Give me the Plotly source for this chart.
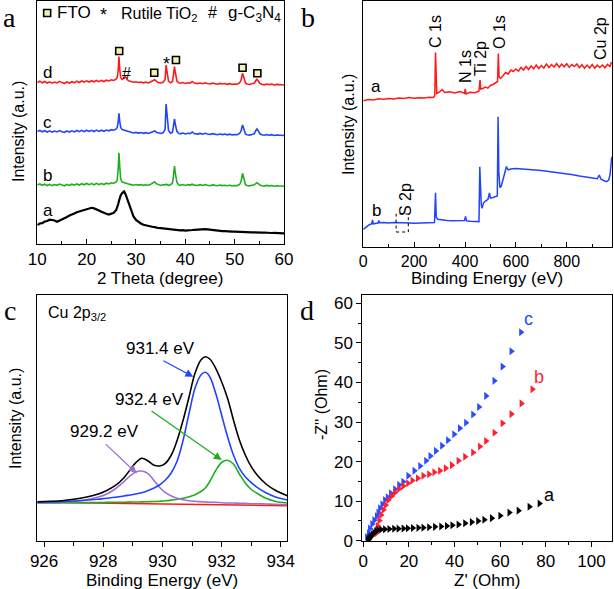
import plotly.graph_objects as go

W, H = 614, 589


def px(x):
    return x / W


def py(y):
    return 1 - y / H


FONT = "Liberation Sans, Arial, sans-serif"
SERIF = "Liberation Serif, Times New Roman, serif"

RED = "#ff1a1a"
BLUE = "#2343ff"
GREEN = "#1cb01c"
PURPLE = "#a070d0"

# ---------------- Panel a : XRD ----------------
theta = (
    [10, 10.5, 11, 11.5, 12, 12.5, 13, 13.5, 14, 14.5, 15, 15.5, 16, 16.5, 17, 17.5, 18, 18.5, 19, 19.5,
     20, 20.5, 21, 21.5, 22, 22.5, 23, 23.5, 24, 24.5, 25, 25.5, 26]
    + [26.2, 26.4, 26.55, 26.7, 26.9, 27.2, 27.6, 27.9, 28.2]
    + [28.5, 29, 29.5, 30, 30.5, 31, 31.5, 32, 32.5, 33]
    + [33.5, 33.8, 34.1, 34.5, 35, 35.5]
    + [35.9, 36.1, 36.3, 36.6, 37, 37.4, 37.6, 37.8, 38.0, 38.3, 38.7]
    + [39, 39.5, 40, 40.5, 41]
    + [41.4, 41.8]
    + [42.5, 43, 43.5, 44, 44.5, 45, 45.5, 46, 46.5, 47, 47.5, 48, 48.5, 49, 49.5, 50, 50.5, 51]
    + [51.3, 51.6, 51.9, 52.2]
    + [52.5, 53, 53.5, 54]
    + [54.3, 54.5, 54.8, 55.1]
    + [55.5, 56, 56.5, 57, 57.5, 58, 58.5, 59, 59.5, 60]
)

xrd_d = (
    [163.5, 164.8, 163.2, 164.5, 163.0, 164.2, 162.8, 164.0, 163.1, 164.6, 163.4, 162.5, 164.1, 163.0, 164.3,
     163.2, 164.8, 163.5, 165.0, 163.8, 165.2, 164.0, 165.3, 164.2, 165.5, 164.3, 165.6, 164.5, 165.8, 165.0,
     166.2, 165.5, 167.0]
    + [168.5, 176, 189.5, 177, 168.5, 166.5, 168.0, 169.0, 166.5]
    + [165.2, 164.5, 163.8, 164.2, 163.5, 164.0, 163.2, 163.8, 163.0, 164.2]
    + [165.2, 166.2, 164.8, 163.5, 163.0, 163.8]
    + [166.5, 181, 174, 165, 163.2, 164.5, 171, 179.5, 173, 165, 163.2]
    + [162.8, 163.5, 162.6, 163.3, 162.8]
    + [164.5, 162.9]
    + [162.4, 163.0, 162.3, 163.2, 162.5, 162.0, 162.8, 162.2, 161.8, 162.6, 162.0, 162.5, 161.7, 162.3,
       161.6, 162.0, 161.8, 163.0]
    + [166.0, 172.7, 166.5, 162.8]
    + [162.0, 161.5, 162.2, 163.0]
    + [165.5, 166.8, 165.0, 162.7]
    + [161.8, 161.2, 162.0, 161.4, 161.9, 161.0, 161.6, 161.2, 161.5, 161.0]
)

xrd_c = (
    [114.5, 115.6, 114.2, 115.3, 114.0, 115.2, 113.8, 115.0, 114.1, 115.4, 114.3, 113.6, 115.0, 114.0, 115.2,
     114.1, 115.5, 114.3, 115.6, 114.4, 115.8, 114.6, 115.7, 114.5, 115.9, 114.6, 115.8, 114.7, 116.0, 115.2,
     116.3, 115.8, 117.0]
    + [118.5, 124, 132.7, 125, 118.5, 116.5, 115.8, 115.3, 114.8]
    + [114.2, 113.8, 113.0, 113.6, 112.9, 113.5, 112.7, 113.3, 112.6, 113.5]
    + [114.5, 115.0, 113.8, 113.0, 112.5, 113.2]
    + [116.5, 142, 133, 115.5, 112.8, 113.8, 120, 127, 121, 114.5, 112.6]
    + [112.2, 112.9, 112.0, 112.8, 112.4]
    + [114.0, 112.4]
    + [111.9, 112.6, 111.8, 112.7, 112.0, 111.5, 112.3, 111.7, 111.3, 112.0, 111.4, 111.9, 111.2, 111.8,
       111.1, 111.5, 111.3, 112.5]
    + [115.0, 121.0, 115.5, 112.0]
    + [111.3, 110.9, 111.6, 112.5]
    + [115.5, 117.0, 115.0, 112.2]
    + [111.2, 110.7, 111.4, 110.8, 111.3, 110.5, 111.0, 110.6, 110.9, 110.5]
)

xrd_b = (
    [61.0, 62.0, 60.7, 61.8, 60.5, 61.6, 60.4, 61.5, 60.7, 61.9, 60.9, 60.2, 61.6, 60.6, 61.8, 60.8, 62.1,
     61.0, 62.3, 61.2, 62.5, 61.3, 62.4, 61.2, 62.6, 61.4, 62.5, 61.5, 62.8, 62.0, 63.2, 62.8, 64.0]
    + [66, 78, 93.3, 80, 67, 64.0, 63.2, 62.7, 62.3]
    + [61.9, 61.4, 60.8, 61.5, 60.9, 61.4, 60.7, 61.3, 60.8, 61.7]
    + [63.3, 64.2, 62.3, 61.2, 60.6, 61.4]
    + [61.0, 61.8, 61.2, 60.7, 61.3, 63.0, 70, 80, 72, 63.5, 61.0]
    + [60.7, 61.5, 60.6, 61.4, 60.9]
    + [61.8, 60.8]
    + [60.6, 61.3, 60.5, 61.4, 60.8, 60.3, 61.1, 60.6, 60.2, 60.9, 60.4, 60.8, 60.2, 60.7, 60.0, 60.5,
       60.4, 61.5]
    + [64.5, 72.7, 65.5, 61.3]
    + [60.5, 60.1, 60.7, 61.3]
    + [62.5, 63.3, 62.4, 60.9]
    + [60.3, 59.9, 60.6, 60.1, 60.5, 59.8, 60.3, 59.9, 60.2, 59.8]
)

xrd_a = (
    [21.0, 22.5, 22.8, 24.5, 25.0, 26.3, 26.0, 25.5, 24.2, 25.3, 26.0, 27.8, 29.0, 30.5, 31.2, 32.6, 33.8,
     34.5, 35.8, 36.5, 37.0, 37.5, 38.2, 37.6, 36.9, 35.5, 34.3, 33.0, 32.2, 31.5, 32.0, 33.2, 36.0]
    + [38.5, 42, 45, 47.5, 50.5, 53.0, 54.5, 51.5, 47.5]
    + [42.5, 35.5, 29.5, 26.0, 24.0, 22.5, 21.2, 20.5, 20.0, 19.4]
    + [19.0, 18.8, 18.3, 18.0, 17.8, 17.5]
    + [17.3, 17.0, 17.2, 16.8, 16.5, 16.4, 16.7, 16.2, 16.0, 16.3, 15.8]
    + [15.6, 15.9, 15.4, 15.7, 15.6]
    + [16.0, 16.2]
    + [16.5, 16.8, 17.0, 16.9, 16.6, 16.2, 15.8, 15.6, 15.2, 15.0, 14.8, 14.9, 14.5, 14.6, 14.3, 14.4,
       14.2, 14.1]
    + [14.3, 14.0, 13.9, 14.2]
    + [13.8, 13.9, 13.6, 13.7]
    + [13.5, 13.8, 13.4, 13.6]
    + [13.3, 13.5, 13.2, 13.4, 13.0, 13.2, 12.9, 13.1, 12.8, 12.7]
)

fto_theta = [26.6, 33.7, 38.1, 51.6, 54.6]
fto_level = [195, 173.3, 186, 178.3, 172.7]

# ---------------- Panel b : XPS survey ----------------
surv_a_E = [0, 20, 40, 60, 80, 100, 120, 140, 160, 180, 200, 220, 240, 260, 275, 281, 284, 286, 289, 300,
            310, 320, 340, 360, 380, 398, 401, 404, 420, 440, 455, 459, 462, 470, 480, 490, 500, 510, 520,
            528, 531, 534, 540, 550, 560, 570, 580, 590, 600, 610, 620, 630, 640, 650, 660, 670, 680, 690,
            700, 710, 720, 730, 740, 750, 760, 770, 780, 790, 800, 810, 820, 830, 840, 850, 860, 870, 880,
            890, 900, 910, 920, 930, 940, 950, 960, 970, 976]
surv_a_I = [146.3, 147.5, 147.0, 148.2, 147.8, 148.5, 148.0, 149.0, 148.6, 149.5, 148.8, 149.3, 149.0, 149.8,
            149.6, 151.0, 194.5, 160.0, 153.5, 155.0, 157.5, 154.5, 155.2, 154.0, 155.5, 153.8, 158.0, 153.0,
            154.8, 154.2, 156.0, 167.0, 158.0, 158.5, 160.0, 158.8, 161.5, 162.5, 164.0, 165.5, 193.5, 170.0,
            168.5, 171.0, 174.5, 173.0, 177.0, 175.5, 178.0, 175.8, 179.5, 177.0, 180.5, 177.5, 181.0, 178.2,
            182.0, 178.5, 181.5, 179.0, 183.0, 179.5, 182.5, 180.0, 183.5, 179.8, 182.8, 180.2, 183.2, 179.6,
            182.4, 180.5, 183.0, 179.3, 182.2, 178.8, 181.9, 179.0, 182.5, 178.8, 181.8, 179.5, 182.0, 179.2,
            182.6, 180.5, 185.0]

surv_b_E = [0, 8, 15, 25, 33, 36, 39, 50, 58, 61, 64, 80, 100, 120, 140, 160, 180, 200, 220, 240, 260, 280,
            284, 287, 292, 310, 330, 350, 370, 385, 398, 402, 406, 420, 440, 455, 458, 461, 464, 467, 472,
            480, 490, 496, 500, 510, 520, 527, 530, 533, 537, 542, 550, 557, 563, 566, 570, 580, 600, 625,
            650, 675, 700, 725, 750, 775, 800, 825, 850, 875, 900, 920, 928, 934, 945, 957, 965, 970, 974, 977]
surv_b_I = [17.7, 19.5, 21.0, 22.5, 23.0, 27.0, 23.2, 23.6, 24.0, 26.5, 24.2, 24.5, 24.0, 24.6, 24.2, 24.4,
            24.0, 23.8, 24.1, 23.9, 24.2, 24.5, 54.3, 30.0, 27.8, 27.0, 26.6, 26.3, 26.2, 26.8, 26.5, 30.5,
            26.2, 25.8, 25.5, 25.4, 80.3, 55.0, 42.0, 38.7, 43.7, 46.0, 47.5, 54.0, 49.0, 49.5, 50.0, 51.0,
            130.3, 75.0, 59.5, 60.5, 68.0, 74.5, 80.5, 78.5, 77.2, 78.0, 78.6, 78.0, 77.8, 77.0, 76.5, 75.8,
            75.0, 74.2, 73.2, 72.3, 71.0, 70.0, 69.0, 68.2, 72.0, 68.0, 66.5, 65.3, 67.0, 72.0, 82.0, 90.3]

# ---------------- Panel c : Cu 2p3/2 ----------------
cu_E = [925.77, 926.2, 926.6, 927.0, 927.4, 927.8, 928.1, 928.4, 928.7, 928.9, 929.1, 929.3, 929.5, 929.7,
        929.9, 930.1, 930.3, 930.5, 930.7, 930.9, 931.1, 931.3, 931.45, 931.6, 931.8, 932.0, 932.2, 932.4,
        932.6, 932.8, 933.0, 933.2, 933.5, 933.8, 934.22]
cu_envelope = [39.3, 39.7, 40.3, 41.7, 43.7, 46.7, 50.3, 55.3, 63.3, 71.0, 78.3, 82.7, 80.3, 76.0, 75.0, 77.7,
               86.0, 101.0, 121.0, 144.3, 167.7, 181.0, 184.3, 182.0, 172.7, 159.3, 142.7, 121.0, 101.0,
               86.0, 74.3, 66.0, 57.0, 51.0, 45.3]
cu_931 = [38.7, 39.0, 39.3, 40.0, 40.7, 41.7, 42.7, 43.7, 45.0, 46.0, 47.0, 48.3, 50.3, 52.7, 56.0, 61.0, 68.3,
          80.3, 101.0, 127.7, 152.7, 166.0, 168.7, 164.3, 147.7, 126.0, 104.3, 86.0, 72.7, 64.3, 58.3, 53.7,
          48.3, 44.3, 41.0]
cu_929 = [38.0, 38.3, 39.0, 39.7, 41.0, 43.7, 46.7, 52.0, 59.3, 65.0, 69.0, 70.0, 67.7, 61.0, 53.7, 48.3, 45.0,
          42.7, 41.3, 40.3, 39.7, 39.3, 39.0, 38.7, 38.7, 38.3, 38.0, 38.0, 37.7, 37.7, 37.3, 37.3, 37.0,
          36.7, 36.3]
cu_932 = [38.0, 38.1, 38.2, 38.3, 38.4, 38.5, 38.6, 38.7, 38.8, 38.9, 39.0, 39.1, 39.3, 39.5, 39.8, 40.2, 40.9,
          41.8, 42.8, 44.2, 46.3, 49.5, 53.0, 59.5, 70.5, 78.5, 80.7, 77.0, 67.0, 58.0, 51.5, 47.7, 42.7,
          39.8, 38.0]
bg_E = [925.77, 934.22]
bg_I = [38.8, 35.2]

# ---------------- Panel d : Nyquist ----------------
nyq_c_x = [69.1, 64.9, 61.0, 57.4, 53.8, 50.7, 48.1, 45.0, 42.3, 39.8, 37.1, 34.5, 31.8, 29.4, 27.5, 24.9,
           22.4, 19.7, 17.5, 15.7, 13.9, 12.1, 10.7, 9.5, 8.3, 7.3, 6.6, 5.9, 4.8, 3.9, 2.9, 2.4, 1.6]
nyq_c_y = [52.7, 47.9, 44.0, 40.4, 36.6, 33.8, 31.9, 29.8, 28.4, 26.9, 25.4, 24.0, 22.7, 21.4, 20.2, 18.9,
           17.7, 16.4, 14.9, 14.1, 13.0, 12.0, 11.0, 10.3, 9.2, 8.2, 7.1, 6.2, 5.2, 4.2, 3.1, 1.9, 0.9]
nyq_b_x = [74.1, 69.3, 64.9, 61.0, 57.5, 53.8, 51.1, 48.1, 44.6, 41.7, 38.8, 36.1, 33.6, 31.1, 28.8, 26.3,
           23.9, 21.5, 19.6, 17.5, 15.7, 13.9, 12.5, 11.0, 9.8, 8.8, 7.8, 7.0, 6.3, 5.9, 5.6]
nyq_b_y = [38.3, 34.7, 32.0, 29.7, 27.3, 25.2, 23.8, 22.3, 21.2, 20.2, 19.1, 18.3, 17.7, 17.3, 16.8, 16.4,
           15.8, 15.2, 14.5, 13.8, 13.1, 12.2, 11.3, 10.3, 9.0, 7.8, 6.5, 5.1, 3.7, 2.7, 1.8]
nyq_a_x = [77.2, 72.8, 68.0, 64.0, 60.0, 56.3, 53.0, 50.3, 47.5, 44.6, 41.7, 39.0, 36.6, 34.1, 31.4, 28.8,
           26.3, 24.1, 21.7, 19.5, 17.6, 15.4, 13.5, 11.4, 9.5, 7.8, 6.6, 5.6, 4.8, 4.1, 3.5, 3.0, 2.6, 2.3,
           2.0]
nyq_a_y = [9.4, 8.6, 7.6, 7.1, 6.3, 5.7, 5.3, 5.0, 4.7, 4.4, 4.1, 3.9, 3.7, 3.6, 3.5, 3.4, 3.3, 3.25, 3.2,
           3.15, 3.1, 3.05, 3.0, 2.95, 2.9, 2.85, 2.7, 2.4, 2.0, 1.6, 1.2, 0.8, 0.5, 0.3, 0.1]

fig = go.Figure()

# panel a traces
for vals, col, wdt in [(xrd_a, "black", 2.2), (xrd_b, GREEN, 1.6), (xrd_c, BLUE, 1.6), (xrd_d, RED, 1.6)]:
    fig.add_trace(go.Scatter(x=theta, y=vals, mode="lines", line=dict(color=col, width=wdt),
                             xaxis="x", yaxis="y", hoverinfo="skip"))
fig.add_trace(go.Scatter(x=fto_theta + [12.0], y=fto_level + [233], mode="markers",
                         marker=dict(symbol="square", size=7, color="#f3f3b0",
                                     line=dict(color="black", width=1.6)),
                         xaxis="x", yaxis="y", hoverinfo="skip"))

# panel b traces
fig.add_trace(go.Scatter(x=surv_a_E, y=surv_a_I, mode="lines", line=dict(color=RED, width=1.5),
                         xaxis="x2", yaxis="y2", hoverinfo="skip"))
fig.add_trace(go.Scatter(x=surv_b_E, y=surv_b_I, mode="lines", line=dict(color=BLUE, width=1.5),
                         xaxis="x2", yaxis="y2", hoverinfo="skip"))

# panel c traces
fig.add_trace(go.Scatter(x=bg_E, y=bg_I, mode="lines", line=dict(color=RED, width=1.5),
                         xaxis="x3", yaxis="y3", hoverinfo="skip"))
for vals, col in [(cu_932, GREEN), (cu_929, PURPLE), (cu_931, BLUE), (cu_envelope, "black")]:
    fig.add_trace(go.Scatter(x=cu_E, y=vals, mode="lines", line=dict(color=col, width=1.6, shape="spline"),
                             xaxis="x3", yaxis="y3", hoverinfo="skip"))

# panel d traces
for xs, ys, col in [(nyq_c_x, nyq_c_y, "#2a4dff"), (nyq_b_x, nyq_b_y, "#ff1f2f"), (nyq_a_x, nyq_a_y, "black")]:
    fig.add_trace(go.Scatter(x=xs, y=ys, mode="markers",
                             marker=dict(symbol="triangle-right", size=7, color=col, line=dict(width=0)),
                             xaxis="x4", yaxis="y4", hoverinfo="skip"))

axis_common = dict(showline=True, linecolor="black", linewidth=1, mirror=True, showgrid=False,
                   zeroline=False, tickcolor="black", automargin=False)
tf17 = dict(tickfont=dict(family=FONT, size=17, color="black"))
tf16 = dict(tickfont=dict(family=FONT, size=16, color="black"))

fig.update_layout(
    width=W, height=H, autosize=False, margin=dict(l=0, r=0, t=0, b=0),
    paper_bgcolor="white", plot_bgcolor="white", showlegend=False,
    font=dict(family=FONT, size=16, color="black"),
    xaxis=dict(domain=[px(37.3), px(284)], range=[10, 60], anchor="y", ticks="inside", ticklen=5,
               dtick=10, tick0=10,
               minor=dict(dtick=5, ticks="inside", ticklen=3, tickcolor="black"),
               **axis_common, **tf17),
    yaxis=dict(domain=[py(244), py(1)], range=[2, 245], anchor="x", showticklabels=False, ticks="",
               **axis_common),
    xaxis2=dict(domain=[px(363.3), px(612)], range=[0, 978], anchor="y2", ticks="inside", ticklen=5,
                dtick=200, tick0=0,
                minor=dict(dtick=100, ticks="inside", ticklen=3, tickcolor="black"),
                **axis_common, **tf16),
    yaxis2=dict(domain=[py(246.7), py(1)], range=[0.3, 246], anchor="x2", showticklabels=False, ticks="",
                **axis_common),
    xaxis3=dict(domain=[px(37.3), px(287.3)], range=[925.77, 934.22], anchor="y3", ticks="outside",
                ticklen=5, dtick=2, tick0=926,
                minor=dict(dtick=1, ticks="outside", ticklen=4, tickcolor="black"), **axis_common, **tf17),
    yaxis3=dict(domain=[py(540.7), py(295)], range=[0.3, 246], anchor="x3", showticklabels=False, ticks="",
                **axis_common),
    xaxis4=dict(domain=[px(362.3), px(612)], range=[-0.4, 109], anchor="y4", ticks="outside", ticklen=5,
                dtick=20, tick0=0, minor=dict(dtick=10, ticks="outside", ticklen=3, tickcolor="black"),
                **axis_common, **tf17),
    yaxis4=dict(domain=[py(540.7), py(295)], range=[0, 62.1], anchor="x4", ticks="outside", ticklen=5,
                dtick=10, tick0=0, minor=dict(dtick=5, ticks="outside", ticklen=3, tickcolor="black"),
                **axis_common, **tf17),
)

ann = []


def text(xp, yp, s, size=16, angle=0, xanchor="center", color="black", family=FONT, yanchor="middle"):
    ann.append(dict(x=px(xp), y=py(yp), xref="paper", yref="paper", text=s, showarrow=False,
                    textangle=angle, xanchor=xanchor, yanchor=yanchor,
                    font=dict(family=family, size=size, color=color)))


# panel letters
text(9, 0, "a", size=28, family=SERIF, yanchor="top")
text(308, 0, "b", size=28, family=SERIF, yanchor="top")
text(10, 293, "c", size=28, family=SERIF, yanchor="top")
text(307, 293, "d", size=28, family=SERIF, yanchor="top")

# axis titles
text(160, 278, "2 Theta (degree)", size=17)
text(18, 132, "Intensity (a.u.)", size=16, angle=-90)
text(487, 279, "Binding Energy (eV)", size=17)
text(348, 125, "Intensity (a.u.)", size=16, angle=-90)
text(162, 580, "Binding Energy (eV)", size=17)
text(15, 419, "Intensity (a.u.)", size=16, angle=-90)
text(487, 580, "Z' (Ohm)", size=17)
text(321, 405, "-Z'' (Ohm)", size=16, angle=-90)

# panel a legend row
text(55, 13, "FTO", size=17, xanchor="left")
text(103, 15, "*", size=18)
text(119, 14, "Rutile TiO<sub>2</sub>", size=16, xanchor="left")
text(212, 13, "#", size=16)
text(226, 14, "g-C<sub>3</sub>N<sub>4</sub>", size=17, xanchor="left")

# panel a curve labels and peak marks
for lab, yy in [("d", 73), ("c", 123), ("b", 175), ("a", 210)]:
    text(48, yy, lab, size=17)
text(166, 64, "*", size=18)
text(126, 74, "#", size=16)

# panel b rotated peak labels
text(436, 32, "C 1s", size=16, angle=-90)
text(466, 67, "N 1s", size=16, angle=-90)
text(481, 59, "Ti 2p", size=16, angle=-90)
text(500, 32, "O 1s", size=16, angle=-90)
text(601, 39, "Cu 2p", size=16, angle=-90)
text(405, 200, "S 2p", size=16, angle=-90)
text(376, 87, "a", size=17)
text(376, 210, "b", size=17)

# panel c labels
text(46, 313, "Cu 2p<sub>3/2</sub>", size=16, xanchor="left")
text(160, 348, "931.4 eV", size=17)
text(149, 399, "932.4 eV", size=17)
text(104, 431, "929.2 eV", size=17)

# panel d labels
text(528, 319, "c", size=18, color="#2a4dff")
text(539, 377, "b", size=18, color="#ff1f2f")
text(549, 495, "a", size=18)

# arrows in panel c (head at x,y ; tail at ax,ay)
for hx, hy, tx, ty, col in [(931.04, 164.3, 929.98, 181, BLUE),
                            (932.0, 81, 929.58, 131, GREEN),
                            (929.13, 67.7, 928.03, 98.3, PURPLE)]:
    ann.append(dict(x=hx, y=hy, ax=tx, ay=ty, xref="x3", yref="y3", axref="x3", ayref="y3", text="",
                    showarrow=True, arrowhead=2, arrowsize=1.2, arrowwidth=1.3, arrowcolor=col))

fig.update_layout(annotations=ann)

# dashed box around S 2p region in panel b
fig.add_shape(type="rect", xref="x2", yref="y2", x0=129, x1=177, y0=15, y1=33,
              line=dict(color="black", width=1, dash="dot"))

fig.write_html("out.html", config={"displayModeBar": False},
               post_script="document.body.style.margin='0px';document.body.style.overflow='hidden';")
